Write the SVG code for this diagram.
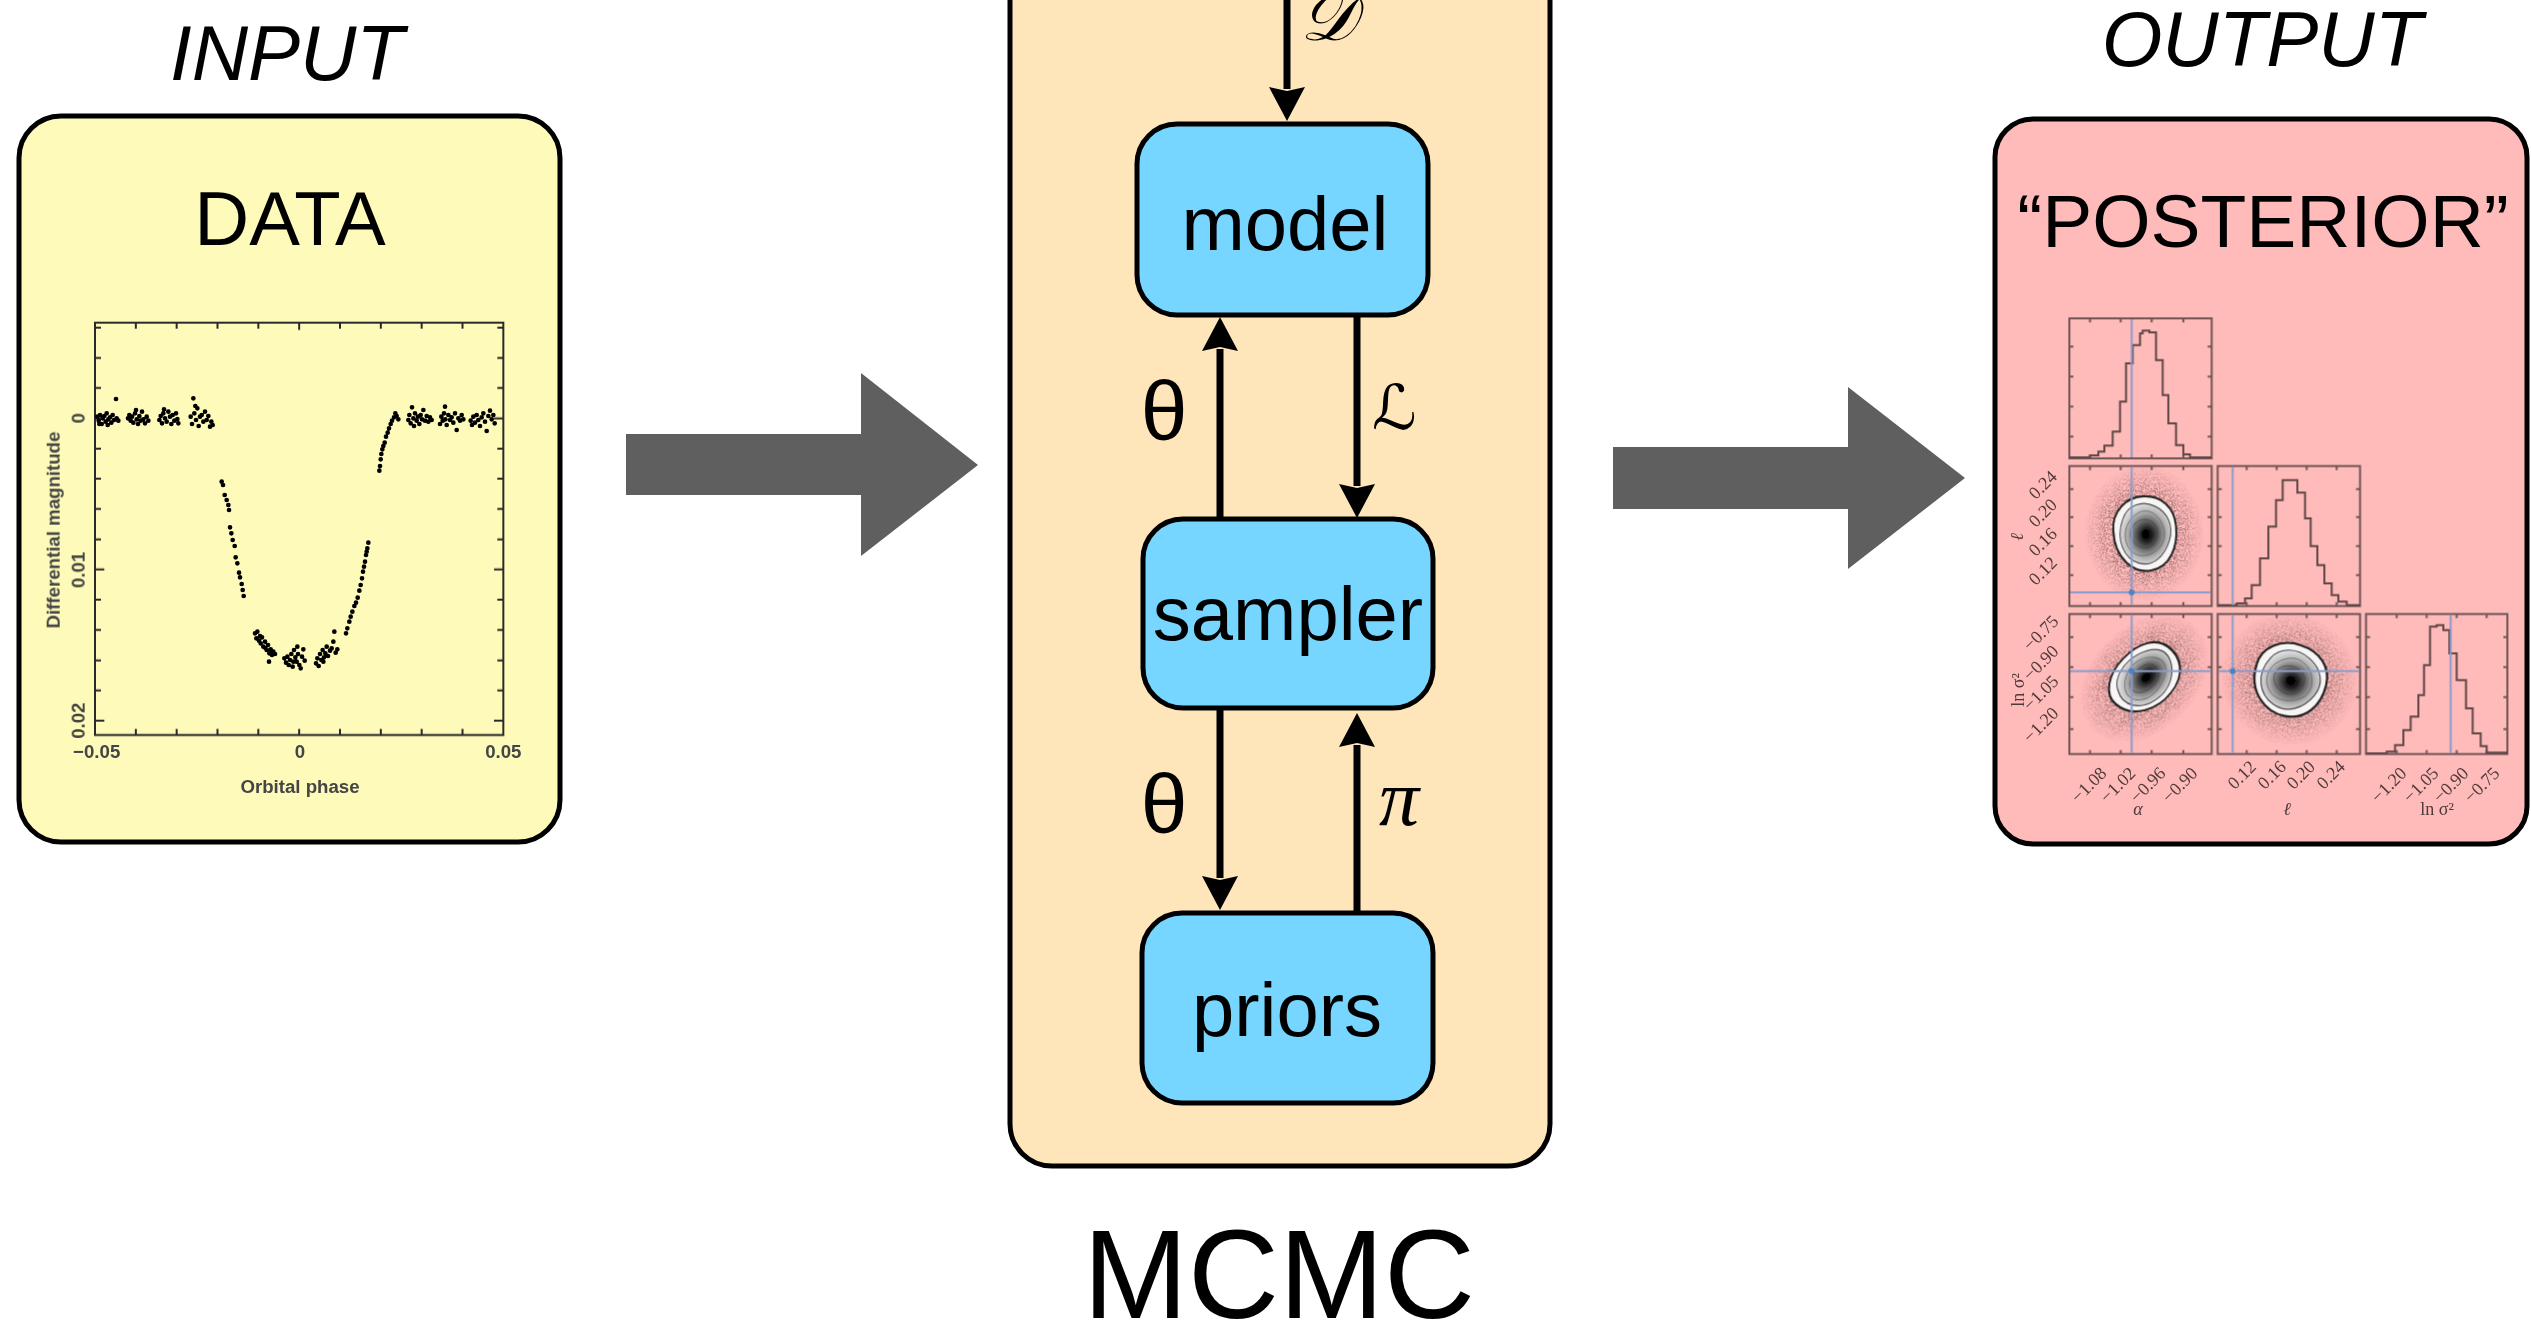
<svg xmlns="http://www.w3.org/2000/svg" xmlns:xlink="http://www.w3.org/1999/xlink" width="2531" height="1327" viewBox="0 0 2531 1327">
  <defs>
    <style>
      .lbl { font-family: "Liberation Sans", Arial, Helvetica, sans-serif; fill: #000; text-anchor: middle; }
      .big { font-size: 76px; }
      .hdr { font-size: 78px; font-style: italic; }
      .box { stroke: #000; stroke-width: 5; }
      .node { fill: #76D6FF; stroke: #000; stroke-width: 5; }
      .wire { fill: none; stroke: #000; stroke-width: 7; marker-end: url(#head); }
      .fat { fill: #5F5F5F; }
      .axis { fill: none; stroke: #2a2a2a; stroke-width: 6; }
      .ptxt { font-family: "Liberation Sans", Arial, sans-serif; font-size: 56px; font-weight: bold; fill: #444; text-anchor: middle; }
      .dots { fill: none; stroke: #000; stroke-width: 14; stroke-linecap: round; }
      .pan { fill: none; stroke: #6e5656; stroke-width: 6; }
      .hist { fill: none; stroke: #5e4646; stroke-width: 6; }
      .truth { fill: none; stroke: #8a9ccc; stroke-width: 6; }
      .tk { font-family: "Liberation Serif", "Times New Roman", serif; font-size: 18px; fill: #4e3a3a; text-anchor: middle; }
    </style>
    <marker id="head" viewBox="0 0 34 36" refX="2" refY="18" markerWidth="34" markerHeight="36" markerUnits="userSpaceOnUse" orient="auto">
      <path d="M0,0 L34,18 L0,36 L4,18 Z" fill="#000"/>
    </marker>
    <filter id="soft" x="-5%" y="-5%" width="110%" height="110%">
      <feGaussianBlur stdDeviation="2"/>
    </filter>
    <filter id="softer" x="-5%" y="-5%" width="110%" height="110%">
      <feGaussianBlur stdDeviation="0.6"/>
    </filter>
    <filter id="speck" x="0" y="0" width="100%" height="100%">
      <feTurbulence type="fractalNoise" baseFrequency="0.3" numOctaves="1" seed="7" result="n"/>
      <feColorMatrix in="n" type="matrix" values="0 0 0 0 0.18  0 0 0 0 0.08  0 0 0 0 0.08  0 0 0 10 -5.0" result="d"/>
      <feComposite in="d" in2="SourceGraphic" operator="in"/>
    </filter>
    <radialGradient id="cloud">
      <stop offset="0" stop-color="#000" stop-opacity="1"/>
      <stop offset="0.5" stop-color="#000" stop-opacity="0.95"/>
      <stop offset="0.75" stop-color="#000" stop-opacity="0.5"/>
      <stop offset="1" stop-color="#000" stop-opacity="0"/>
    </radialGradient>
    <radialGradient id="core" cx="0.55" cy="0.5" r="0.55">
      <stop offset="0" stop-color="#000"/>
      <stop offset="0.2" stop-color="#202020"/>
      <stop offset="0.45" stop-color="#6a6a6a"/>
      <stop offset="0.72" stop-color="#b4b4b4"/>
      <stop offset="1" stop-color="#e4e4e4"/>
    </radialGradient>
    <path id="cshape" d="M-96,-8 C-100,-58 -58,-100 -2,-101 C52,-103 92,-72 98,-20 C104,36 80,92 22,101 C-30,110 -92,72 -96,-8 Z"/>
    <g id="blob">
      <circle r="185" fill="url(#cloud)" filter="url(#speck)"/>
      <use href="#cshape" fill="#f8f5f5" stroke="#222" stroke-width="6"/>
      <use href="#cshape" transform="rotate(25) scale(0.8)" fill="url(#core)" stroke="#4a4a4a" stroke-width="4"/>
      <use href="#cshape" transform="rotate(60) scale(0.6)" fill="none" stroke="#6a6a6a" stroke-width="4"/>
      <use href="#cshape" transform="rotate(110) scale(0.4)" fill="none" stroke="#3a3a3a" stroke-width="4"/>
      <circle cx="4" cy="2" r="12" fill="#000"/>
    </g>
  </defs>

  <rect width="2531" height="1327" fill="#fff"/>

  <!-- input: observed light curve -->
  <g id="input">
    <text class="lbl hdr" x="287" y="80">INPUT</text>
    <rect class="box" x="19" y="116" width="541" height="726" rx="42" fill="#FDFABA"/>
    <text class="lbl big" x="290" y="245">DATA</text>
    <g transform="translate(40 300) scale(0.33333)" filter="url(#soft)">
      <rect class="axis" x="165" y="68" width="1225" height="1237"/>
      <path class="axis" d="M287.5,1305v-18 M410,1305v-18 M532.5,1305v-18 M655,1305v-18 M777.5,1305v-18 M900,1305v-18 M1022.5,1305v-18 M1145,1305v-18 M1267.5,1305v-18
        M287.5,68v18 M410,68v18 M532.5,68v18 M655,68v18 M777.5,68v22 M900,68v18 M1022.5,68v18 M1145,68v18 M1267.5,68v18
        M165,1262h28 M165,1171h18 M165,1081h18 M165,990h18 M165,899h18 M165,808h28 M165,718h18 M165,627h18 M165,536h18 M165,446h18 M165,355h28 M165,264h18 M165,174h18 M165,83h18
        M1390,1262h-28 M1390,1171h-18 M1390,1081h-18 M1390,990h-18 M1390,899h-18 M1390,808h-28 M1390,718h-18 M1390,627h-18 M1390,536h-18 M1390,446h-18 M1390,355h-28 M1390,264h-18 M1390,174h-18 M1390,83h-18"/>
      <text class="ptxt" transform="translate(135 355) rotate(-90)">0</text>
      <text class="ptxt" transform="translate(135 810) rotate(-90)">0.01</text>
      <text class="ptxt" transform="translate(135 1262) rotate(-90)">0.02</text>
      <text class="ptxt" transform="translate(60 690) rotate(-90)" font-size="50">Differential magnitude</text>
      <text class="ptxt" x="170" y="1375">−0.05</text>
      <text class="ptxt" x="780" y="1375">0</text>
      <text class="ptxt" x="1390" y="1375">0.05</text>
      <text class="ptxt" x="780" y="1478" font-size="52">Orbital phase</text>
      <path class="dots" d="M172,350h.1M176,362h.1M180,345h.1M185,372h.1M188,355h.1M193,348h.1M197,365h.1M200,340h.1M205,358h.1M210,352h.1M214,368h.1M218,345h.1M222,360h.1M228,297h.1M230,355h.1M235,362h.1M178,372h.1M203,375h.1
        M264,355h.1M268,345h.1M272,362h.1M276,350h.1M280,368h.1M285,340h.1M290,358h.1M294,372h.1M298,348h.1M302,362h.1M306,335h.1M310,358h.1M315,370h.1M320,350h.1M325,362h.1M288,330h.1
        M358,360h.1M362,348h.1M366,370h.1M370,340h.1M375,355h.1M380,365h.1M385,335h.1M390,350h.1M394,372h.1M398,345h.1M403,362h.1M408,340h.1M412,357h.1M415,370h.1M372,328h.1
        M452,350h.1M456,372h.1M460,295h.1M463,340h.1M468,360h.1M472,325h.1M476,378h.1M480,350h.1M485,345h.1M490,365h.1M495,335h.1M500,360h.1M505,348h.1M510,380h.1M514,365h.1M518,375h.1M466,318h.1
        M545,545h.1M549,555h.1M554,585h.1M560,600h.1M565,615h.1M567,630h.1M570,682h.1M574,700h.1M578,720h.1M584,738h.1M587,772h.1M592,790h.1M597,818h.1M600,832h.1M605,852h.1M611,888h.1M608,870h.1
        M645,1000h.1M649,1015h.1M652,995h.1M657,1022h.1M662,1030h.1M666,1012h.1M670,1040h.1M675,1025h.1M680,1050h.1M684,1035h.1M688,1060h.1M692,1048h.1M696,1065h.1M700,1055h.1M705,1062h.1M687,1085h.1M660,1008h.1M676,1044h.1
        M733,1075h.1M738,1088h.1M742,1070h.1M746,1095h.1M750,1080h.1M754,1062h.1M758,1100h.1M762,1050h.1M766,1072h.1M770,1085h.1M774,1062h.1M778,1095h.1M782,1105h.1M786,1070h.1M790,1048h.1M794,1082h.1M760,1085h.1M772,1040h.1
        M828,1090h.1M832,1075h.1M836,1098h.1M840,1062h.1M844,1080h.1M848,1050h.1M852,1072h.1M856,1060h.1M860,1040h.1M864,1068h.1M870,1052h.1M875,1045h.1M880,1025h.1M883,995h.1M887,1058h.1M892,1048h.1M850,1085h.1
        M918,1000h.1M922,985h.1M928,965h.1M932,950h.1M937,935h.1M943,918h.1M948,908h.1M953,893h.1M958,872h.1M962,855h.1M966,835h.1M969,815h.1M972,800h.1M975,785h.1M978,765h.1M982,745h.1M985,728h.1M980,755h.1
        M1018,512h.1M1020,498h.1M1022,478h.1M1024,462h.1M1027,448h.1M1030,438h.1M1034,428h.1M1038,410h.1M1043,398h.1M1047,385h.1M1052,372h.1M1056,362h.1M1062,352h.1M1066,340h.1M1070,348h.1M1075,358h.1
        M1105,360h.1M1108,345h.1M1112,370h.1M1116,322h.1M1120,355h.1M1125,340h.1M1130,362h.1M1134,350h.1M1138,372h.1M1142,345h.1M1146,358h.1M1150,330h.1M1155,362h.1M1160,348h.1M1165,365h.1M1170,352h.1M1175,360h.1M1122,378h.1
        M1200,372h.1M1204,350h.1M1208,362h.1M1212,340h.1M1216,358h.1M1220,375h.1M1225,345h.1M1230,360h.1M1235,352h.1M1240,368h.1M1245,340h.1M1250,390h.1M1255,355h.1M1260,362h.1M1265,345h.1M1270,358h.1M1215,320h.1
        M1292,362h.1M1296,375h.1M1300,350h.1M1305,368h.1M1310,345h.1M1315,360h.1M1320,378h.1M1325,352h.1M1330,340h.1M1335,365h.1M1340,393h.1M1345,348h.1M1350,332h.1M1355,358h.1M1360,345h.1M1364,370h.1"/>
    </g>
  </g>

  <!-- MCMC container -->
  <g id="mcmc">
    <rect class="box" x="1010" y="-60" width="540" height="1226" rx="42" fill="#FEE6BA"/>
    <text class="lbl" x="1279" y="1318" font-size="126">MCMC</text>
  </g>

  <g id="model">
    <rect class="node" x="1137" y="124" width="291" height="191" rx="40"/>
    <text class="lbl big" x="1285" y="250">model</text>
  </g>

  <g id="sampler">
    <rect class="node" x="1143" y="519" width="290" height="189" rx="40"/>
    <text class="lbl big" x="1288" y="640">sampler</text>
  </g>

  <g id="priors">
    <rect class="node" x="1142" y="913" width="291" height="190" rx="40"/>
    <text class="lbl big" x="1287" y="1036">priors</text>
  </g>

  <!-- output: corner plot of the posterior -->
  <g id="output">
    <text class="lbl hdr" x="2262" y="66">OUTPUT</text>
    <rect class="box" x="1995" y="119" width="532" height="725" rx="38" fill="#FFBABA"/>
    <text class="lbl" x="2263" y="247" font-size="75">“POSTERIOR”</text>
    <g transform="translate(2050 300) scale(0.33333)" filter="url(#softer)">
      <use href="#blob" transform="translate(283 700) scale(0.97 1.1)"/>
      <use href="#blob" transform="translate(283 1135) rotate(-45) scale(1.2 0.86)"/>
      <use href="#blob" transform="translate(718 1138) rotate(20) scale(1.12 1.07)"/>
      <rect class="pan" x="58" y="55" width="427" height="420"/>
      <rect class="pan" x="58" y="498" width="427" height="420"/>
      <rect class="pan" x="58" y="942" width="427" height="420"/>
      <rect class="pan" x="503" y="498" width="427" height="420"/>
      <rect class="pan" x="503" y="942" width="427" height="420"/>
      <rect class="pan" x="948" y="942" width="424" height="420"/>
      <path class="pan" stroke-width="4" d="M120,475v-12M212,475v-12M305,475v-12M400,475v-12M120,55v12M212,55v12M305,55v12M400,55v12M58,140h12M58,230h12M58,320h12M58,410h12M485,140h-12M485,230h-12M485,320h-12M485,410h-12
        M120,918v-12M212,918v-12M305,918v-12M400,918v-12M120,498v12M212,498v12M305,498v12M400,498v12M58,567h12M58,651h12M58,738h12M58,825h12M485,567h-12M485,651h-12M485,738h-12M485,825h-12
        M120,1362v-12M212,1362v-12M305,1362v-12M400,1362v-12M120,942v12M212,942v12M305,942v12M400,942v12M58,1011h12M58,1101h12M58,1191h12M58,1287h12M485,1011h-12M485,1101h-12M485,1191h-12M485,1287h-12
        M590,918v-12M680,918v-12M770,918v-12M860,918v-12M590,498v12M680,498v12M770,498v12M860,498v12M503,567h12M503,651h12M503,738h12M503,825h12M930,567h-12M930,651h-12M930,738h-12M930,825h-12
        M590,1362v-12M680,1362v-12M770,1362v-12M860,1362v-12M590,942v12M680,942v12M770,942v12M860,942v12M503,1011h12M503,1101h12M503,1191h12M503,1287h12M930,1011h-12M930,1101h-12M930,1191h-12M930,1287h-12
        M1040,1362v-12M1130,1362v-12M1220,1362v-12M1310,1362v-12M1040,942v12M1130,942v12M1220,942v12M1310,942v12M948,1011h12M948,1101h12M948,1191h12M948,1287h12M1372,1011h-12M1372,1101h-12M1372,1191h-12M1372,1287h-12"/>
      <path class="hist" d="M58,472H120V466H145V455H163V437H188V395H210V305H228V190H248V135H270V100H278V92H298V97H318V180H338V285H355V370H378V435H400V463H420V472H485"/>
      <path class="hist" d="M503,915H560V910H585V895H605V855H630V775H655V680H678V600H698V540H742V578H765V655H782V738H802V795H823V850H845V885H865V905H890V915H930"/>
      <path class="hist" d="M948,1360H1010V1355H1035V1335H1060V1290H1082V1250H1105V1185H1122V1095H1140V980H1160V975H1180V990H1198V1060H1220V1140H1248V1225H1268V1300H1292V1338H1310V1358H1372"/>
      <path class="truth" d="M245,58V472 M245,501V915 M245,945V1359 M61,877H482 M61,1113H482 M506,1113H927 M548,501V915 M548,945V1359 M1202,945V1359"/>
      <circle cx="245" cy="877" r="9" fill="#4d82c2"/>
      <circle cx="245" cy="1113" r="9" fill="#4d82c2"/>
      <circle cx="548" cy="1113" r="9" fill="#4d82c2"/>
    </g>
    <g filter="url(#softer)">
      <text class="tk" transform="translate(2047 489) rotate(-45)">0.24</text>
      <text class="tk" transform="translate(2047 517) rotate(-45)">0.20</text>
      <text class="tk" transform="translate(2047 546) rotate(-45)">0.16</text>
      <text class="tk" transform="translate(2047 575) rotate(-45)">0.12</text>
      <text class="tk" transform="translate(2023 537) rotate(-90)" font-size="22" font-style="italic">ℓ</text>
      <text class="tk" transform="translate(2045 637) rotate(-45)">−0.75</text>
      <text class="tk" transform="translate(2045 667) rotate(-45)">−0.90</text>
      <text class="tk" transform="translate(2045 697) rotate(-45)">−1.05</text>
      <text class="tk" transform="translate(2045 729) rotate(-45)">−1.20</text>
      <text class="tk" transform="translate(2024 690) rotate(-90)" font-size="20">ln σ²</text>
      <text class="tk" transform="translate(2093 789) rotate(-45)">−1.08</text>
      <text class="tk" transform="translate(2122 789) rotate(-45)">−1.02</text>
      <text class="tk" transform="translate(2152 789) rotate(-45)">−0.96</text>
      <text class="tk" transform="translate(2184 789) rotate(-45)">−0.90</text>
      <text class="tk" x="2138" y="815" font-size="20" font-style="italic">α</text>
      <text class="tk" transform="translate(2246 779) rotate(-45)">0.12</text>
      <text class="tk" transform="translate(2276 779) rotate(-45)">0.16</text>
      <text class="tk" transform="translate(2305 779) rotate(-45)">0.20</text>
      <text class="tk" transform="translate(2335 779) rotate(-45)">0.24</text>
      <text class="tk" x="2287" y="815" font-size="22" font-style="italic">ℓ</text>
      <text class="tk" transform="translate(2393 789) rotate(-45)">−1.20</text>
      <text class="tk" transform="translate(2425 789) rotate(-45)">−1.05</text>
      <text class="tk" transform="translate(2455 789) rotate(-45)">−0.90</text>
      <text class="tk" transform="translate(2486 789) rotate(-45)">−0.75</text>
      <text class="tk" x="2437" y="815" font-size="20">ln σ²</text>
    </g>
  </g>

  <!-- connectors -->
  <g id="connectors">
    <path class="fat" d="M626,434H861V373L978,465L861,556V495H626Z"/>
    <path class="fat" d="M1613,447H1848V387L1965,478L1848,569V509H1613Z"/>
    <path class="wire" d="M1287,-10V89"/>
    <path class="wire" d="M1220,519V349"/>
    <path class="wire" d="M1357,315V486"/>
    <path class="wire" d="M1220,708V878"/>
    <path class="wire" d="M1357,913V745"/>
    <text x="1300" y="40" font-family="DejaVu Serif, DejaVu Sans, serif" font-size="70" font-style="italic">𝒟</text>
    <text class="lbl" x="1164" y="440" font-size="84">θ</text>
    <text x="1372" y="429" font-family="DejaVu Serif, DejaVu Sans, serif" font-size="62">ℒ</text>
    <text class="lbl" x="1164" y="833" font-size="84">θ</text>
    <text x="1379" y="825" font-family="Liberation Serif, Times New Roman, serif" font-size="80" font-style="italic">π</text>
  </g>
</svg>
